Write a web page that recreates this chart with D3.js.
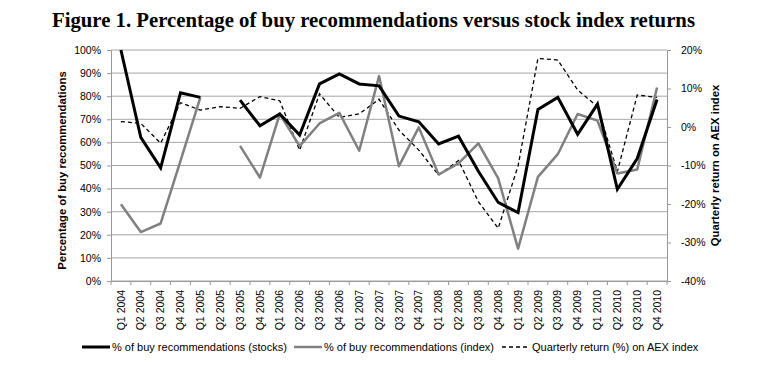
<!DOCTYPE html>
<html><head><meta charset="utf-8">
<script src="https://cdn.jsdelivr.net/npm/d3@7"></script>
<style>body{margin:0;background:#fff}svg{display:block}</style>
</head><body><div id="chart"></div>
<script>
const categories = ["Q1 2004","Q2 2004","Q3 2004","Q4 2004","Q1 2005","Q2 2005","Q3 2005","Q4 2005",
 "Q1 2006","Q2 2006","Q3 2006","Q4 2006","Q1 2007","Q2 2007","Q3 2007","Q4 2007",
 "Q1 2008","Q2 2008","Q3 2008","Q4 2008","Q1 2009","Q2 2009","Q3 2009","Q4 2009",
 "Q1 2010","Q2 2010","Q3 2010","Q4 2010"];
const stocks = [100,62.2,49,81.5,79.5,null,78.3,67.2,72.3,63.2,85.3,89.6,85.3,84.5,71.4,68.9,
 59.3,62.7,47.5,34,29.6,74.3,79.5,63.5,76.6,39.7,53,78.6];
const indexRec = [33.2,21.2,24.9,52,79.5,null,58.5,44.8,72.3,58.4,68.2,72.8,56.4,88.7,49.7,66.5,
 46.1,50.9,59.6,44.4,14,45.1,54.9,72.3,69.4,46.5,48.3,83.8];
const aex = [1.4,0.95,-4.2,6.3,4.4,5.3,4.85,7.9,6.8,-6,8.6,2.5,3.4,7.2,-0.8,-6,
 -12.5,-8.7,-19.4,-26.3,-10.1,17.8,17.4,9.6,5.3,-11.6,8.3,7.7];
const leftTicks = [0,10,20,30,40,50,60,70,80,90,100];
const rightTicks = [-40,-30,-20,-10,0,10,20];
const seriesNames = ["% of buy recommendations (stocks)","% of buy recommendations (index)","Quarterly return (%) on AEX index"];

const W=760,H=365;
const m={l:111,r:667,t:50,b:281};
const svg=d3.select("#chart").append("svg").attr("width",W).attr("height",H);
const font="'Liberation Sans', Arial, sans-serif";

svg.append("text").attr("x",52).attr("y",27).attr("font-family","'Liberation Serif','Times New Roman',serif")
 .attr("font-weight","bold").attr("font-size",20).attr("textLength",643).attr("lengthAdjust","spacingAndGlyphs")
 .text("Figure 1. Percentage of buy recommendations versus stock index returns");

const x=d3.scaleBand().domain(categories).range([m.l,m.r]).padding(0);
const yL=d3.scaleLinear().domain([0,100]).range([m.b,m.t]);
const yR=d3.scaleLinear().domain([-40,20]).range([m.b,m.t]);
const cx=d=>x(d)+x.bandwidth()/2;

// gridlines
svg.append("g").selectAll("line").data(leftTicks).join("line")
 .attr("x1",m.l).attr("x2",m.r).attr("y1",d=>yL(d)).attr("y2",d=>yL(d))
 .attr("stroke","#a6a6a6").attr("stroke-width",1);

// left axis
const gl=svg.append("g").attr("transform",`translate(${m.l},0)`)
 .call(d3.axisLeft(yL).tickValues(leftTicks).tickFormat(d=>d+"%").tickSize(4).tickPadding(6));
gl.select(".domain").attr("stroke","#999");
gl.selectAll(".tick line").attr("stroke","#999");
gl.selectAll("text").attr("font-family",font).attr("font-size",10.5).attr("fill","#000");

// right axis
const gr=svg.append("g").attr("transform",`translate(${m.r},0)`)
 .call(d3.axisRight(yR).tickValues(rightTicks).tickFormat(d=>d+"%").tickSize(4).tickPadding(10));
gr.select(".domain").attr("stroke","#999");
gr.selectAll(".tick line").attr("stroke","#999");
gr.selectAll("text").attr("font-family",font).attr("font-size",10.5).attr("fill","#000");

// bottom axis
const gb=svg.append("g").attr("transform",`translate(0,${m.b})`)
 .call(d3.axisBottom(x).tickSize(0).tickPadding(0));
gb.select(".domain").attr("stroke","#999");
gb.selectAll("text").attr("font-family",font).attr("font-size",10.5).attr("fill","#000")
 .attr("transform","rotate(-90)").attr("text-anchor","end").attr("dx","-9").attr("dy","0.35em").attr("y",0).attr("x",0);
// boundary ticks
svg.append("g").selectAll("line").data(categories.concat(["end"])).join("line")
 .attr("x1",(d,i)=>i<categories.length?x(d):x(categories[categories.length-1])+x.bandwidth())
 .attr("x2",(d,i)=>i<categories.length?x(d):x(categories[categories.length-1])+x.bandwidth())
 .attr("y1",m.b).attr("y2",m.b+4).attr("stroke","#999");

// axis titles
svg.append("text").attr("transform",`translate(66,${(m.t+m.b)/2+5}) rotate(-90)`).attr("text-anchor","middle")
 .attr("font-family",font).attr("font-weight","bold").attr("font-size",11.3).text("Percentage of buy recommendations");
svg.append("text").attr("transform",`translate(719,${(m.t+m.b)/2}) rotate(-90)`).attr("text-anchor","middle")
 .attr("font-family",font).attr("font-weight","bold").attr("font-size",11.3).text("Quarterly return on AEX index");

// lines
const lineL=d3.line().defined(d=>d.v!=null).x(d=>cx(d.c)).y(d=>yL(d.v));
const lineR=d3.line().defined(d=>d.v!=null).x(d=>cx(d.c)).y(d=>yR(d.v));
const toPts=arr=>arr.map((v,i)=>({c:categories[i],v}));
svg.append("path").attr("d",lineR(toPts(aex))).attr("fill","none").attr("stroke","#000").attr("stroke-width",1.3).attr("stroke-dasharray","4,3");
svg.append("path").attr("d",lineL(toPts(indexRec))).attr("fill","none").attr("stroke","#808080").attr("stroke-width",2.5).attr("stroke-linejoin","round");
svg.append("path").attr("d",lineL(toPts(stocks))).attr("fill","none").attr("stroke","#000").attr("stroke-width",3).attr("stroke-linejoin","miter");

// legend
const leg=[{x1:82,x2:110,tx:112,stroke:"#000",w:3,dash:null},
 {x1:294,x2:322,tx:324,stroke:"#808080",w:2.5,dash:null},
 {x1:502,x2:530,tx:532,stroke:"#000",w:1.3,dash:"4,3"}];
leg.forEach((l,i)=>{
 svg.append("line").attr("x1",l.x1).attr("x2",l.x2).attr("y1",347).attr("y2",347).attr("stroke",l.stroke)
  .attr("stroke-width",l.w).attr("stroke-dasharray",l.dash);
 svg.append("text").attr("x",l.tx).attr("y",351).attr("font-family",font).attr("font-size",11).text(seriesNames[i]);
});
</script></body></html>
